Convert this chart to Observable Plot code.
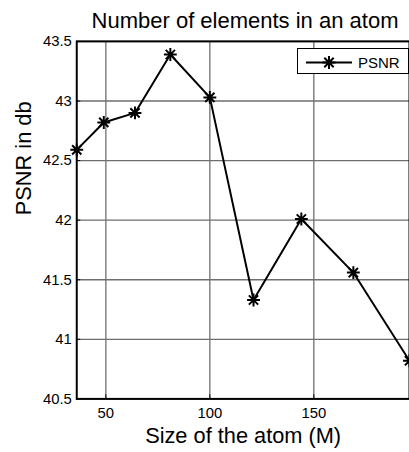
<!DOCTYPE html>
<html>
<head>
<meta charset="utf-8">
<script src="https://cdn.jsdelivr.net/npm/d3@7"></script>
<script src="https://cdn.jsdelivr.net/npm/@observablehq/plot@0.6"></script>
<style>
  html, body { margin: 0; padding: 0; background: #fff; }
  #wrap { position: relative; width: 409px; height: 452px; overflow: hidden; font-family: "Liberation Sans", Arial, sans-serif; }
  #title { height: 22px; padding-top: 10px; line-height: 22px; font-size: 22px; text-align: center; width: 336px; margin-left: 77px; white-space: nowrap; color: #000; }
  #legend { position: absolute; left: 297px; top: 48px; }
</style>
</head>
<body>
<div id="wrap">
  <div id="title">Number of elements in an atom</div>
  <div id="chart"></div>
</div>
<script>
const atomSize = [36, 49, 64, 81, 100, 121, 144, 169, 196];
const psnr = [42.59, 42.82, 42.90, 43.39, 43.03, 41.33, 42.01, 41.56, 40.82];
const xTicks = [50, 100, 150];
const yTicks = [40.5, 41, 41.5, 42, 42.5, 43, 43.5];
const seriesName = "PSNR";
const xLabel = "Size of the atom (M)";
const yLabel = "PSNR in db";

const data = atomSize.map((x, i) => ({x, y: psnr[i]}));

// MATLAB-like '*' marker: plus + x
const star = {
  draw(context, size) {
    const r = Math.sqrt(size / Math.PI);
    const d = r * 0.72;
    context.moveTo(-r, 0); context.lineTo(r, 0);
    context.moveTo(0, -r); context.lineTo(0, r);
    context.moveTo(-d, -d); context.lineTo(d, d);
    context.moveTo(-d, d); context.lineTo(d, -d);
  }
};

const gridColor = "#6e6e6e";
const chart = Plot.plot({
  width: 413,
  height: 420,
  marginLeft: 77,
  marginRight: 0,
  marginTop: 9,
  marginBottom: 50,
  style: {fontFamily: "'Liberation Sans', Arial, sans-serif", fontSize: "15px", background: "white", color: "black", overflow: "visible"},
  x: {domain: [36, 196], ticks: xTicks},
  y: {domain: [40.5, 43.5], ticks: yTicks},
  marks: [
    Plot.gridX(xTicks, {stroke: gridColor, strokeOpacity: 1, strokeWidth: 1.3}),
    Plot.gridY(yTicks, {stroke: gridColor, strokeOpacity: 1, strokeWidth: 1.3}),
    Plot.axisX(xTicks, {tickSize: -4, tickPadding: 13, label: null, fontSize: 15, stroke: "black", tickFormat: d => String(d)}),
    Plot.axisY(yTicks, {tickSize: -4, tickPadding: 9, label: null, fontSize: 15, stroke: "black", tickFormat: d => String(d)}),
    Plot.frame({stroke: "black", strokeWidth: 2}),
    Plot.line(data, {x: "x", y: "y", stroke: "black", strokeWidth: 2}),
    Plot.dot(data, {x: "x", y: "y", symbol: star, r: 6.5, stroke: "black", strokeWidth: 2, fill: "none"}),
    Plot.text([xLabel], {frameAnchor: "bottom", text: d => d, dy: 37, fontSize: 22, lineAnchor: "middle"}),
    Plot.text([yLabel], {frameAnchor: "left", text: d => d, dx: -53, dy: -5, rotate: -90, fontSize: 22, lineAnchor: "middle"})
  ]
});
document.getElementById("chart").appendChild(chart);

// Legend (top-right of plot area)
const ns = "http://www.w3.org/2000/svg";
const leg = document.createElementNS(ns, "svg");
leg.setAttribute("id", "legend");
leg.setAttribute("width", 113);
leg.setAttribute("height", 27);
leg.innerHTML =
  `<rect x="0.5" y="0.5" width="111" height="25" fill="white" stroke="black" stroke-width="1"/>
   <line x1="9" y1="14.5" x2="55" y2="14.5" stroke="black" stroke-width="2"/>
   <path d="${(() => { const p = d3.path(); star.draw(p, Math.PI * 6.5 * 6.5); return p.toString(); })()}" transform="translate(32,14.5)" stroke="black" stroke-width="2" fill="none"/>
   <text x="61" y="19.5" font-size="15" font-family="'Liberation Sans', Arial, sans-serif" fill="black">${seriesName}</text>`;
document.getElementById("wrap").appendChild(leg);
</script>
</body>
</html>
